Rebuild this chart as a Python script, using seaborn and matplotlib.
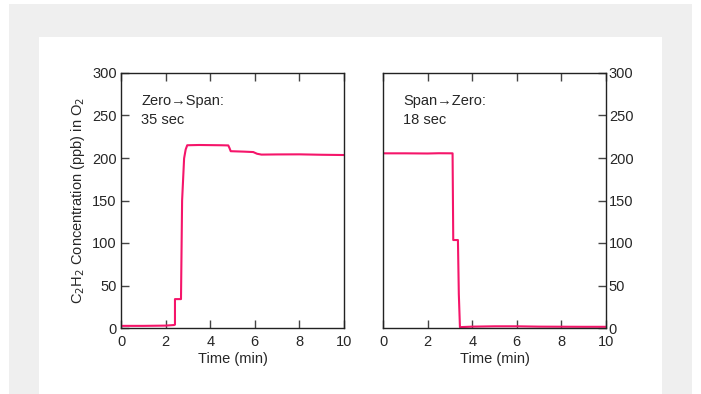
import numpy as np
import pandas as pd
import matplotlib
matplotlib.use("Agg")
import matplotlib.pyplot as plt
import seaborn as sns
from matplotlib.patches import Rectangle

# Zero -> Span response (time in min, C2H2 in ppb)
zs_time = [0, 1.0, 2.0, 2.38, 2.42, 2.42, 2.69, 2.74, 2.83, 2.9, 2.97, 3.5, 4.5, 4.81, 4.86, 4.92, 5.5, 5.93, 6.1, 6.3, 7.0, 8.0, 9.0, 10.0]
zs_conc = [2.5, 2.5, 2.8, 3.5, 4.0, 34, 34, 150, 199.6, 210, 215, 215.3, 215, 214.8, 212, 208, 207.5, 207, 205, 204, 204.2, 204.3, 203.8, 203.5]

# Span -> Zero response
sz_time = [0, 1.0, 2.0, 2.5, 3.12, 3.15, 3.36, 3.4, 3.45, 4.0, 5.0, 6.0, 7.0, 8.0, 9.0, 10.0]
sz_conc = [205.5, 205.5, 205.3, 205.6, 205.5, 103.5, 103.5, 40, 1.0, 1.6, 2.0, 2.0, 1.6, 1.5, 1.4, 1.4]

x_ticks = [0, 2, 4, 6, 8, 10]
y_ticks = [0, 50, 100, 150, 200, 250, 300]
labels = ["Zero\u2192Span:\n35 sec", "Span\u2192Zero:\n18 sec"]

sns.set_style("ticks")
plt.rcParams['font.family'] = ['Liberation Sans', 'DejaVu Sans']
plt.rcParams['font.size'] = 10.5

line_color = "#f5156a"

fig = plt.figure(figsize=(7.01, 3.94), dpi=100)
fig.patch.set_facecolor("white")
# grey frame with white inner panel
fig.patches.append(Rectangle((9 / 701, 0), 683 / 701, 390 / 394, transform=fig.transFigure,
                             facecolor="#efefef", edgecolor="none", zorder=-2))
fig.patches.append(Rectangle((39 / 701, 0), 623 / 701, 357 / 394, transform=fig.transFigure,
                             facecolor="white", edgecolor="none", zorder=-1))

ax1 = fig.add_axes([121 / 701, 1 - 328 / 394, 223 / 701, 255 / 394])
ax2 = fig.add_axes([383 / 701, 1 - 328 / 394, 223 / 701, 255 / 394])

df1 = pd.DataFrame({"time": zs_time, "conc": zs_conc})
df2 = pd.DataFrame({"time": sz_time, "conc": sz_conc})

sns.lineplot(data=df1, x="time", y="conc", ax=ax1, color=line_color, lw=1.5,
             estimator=None, sort=False)
sns.lineplot(data=df2, x="time", y="conc", ax=ax2, color=line_color, lw=1.5,
             estimator=None, sort=False)

for ax, txt in zip([ax1, ax2], labels):
    ax.set_facecolor("none")
    ax.set_xlim(0, 10)
    ax.set_ylim(0, 300)
    ax.set_xticks(x_ticks)
    ax.set_yticks(y_ticks)
    ax.set_xlabel("Time (min)", labelpad=2)
    ax.set_ylabel("")
    for s in ax.spines.values():
        s.set_visible(True)
        s.set_linewidth(1.0)
        s.set_color("#222222")
    ax.tick_params(axis="x", direction="in", top=True, bottom=True, length=6,
                   width=1, color="#444444", pad=5)
    ax.text(0.9, 256, txt, ha="left", va="center", fontsize=10.5, linespacing=1.45)

ax1.tick_params(axis="y", direction="in", left=True, right=False, length=6,
                width=1, color="#444444", pad=3)
ax1.set_ylabel("C$_2$H$_2$ Concentration (ppb) in O$_2$", labelpad=4)

ax2.yaxis.tick_right()
ax2.tick_params(axis="y", direction="in", left=False, right=True, labelleft=False,
                labelright=True, length=6, width=1, color="#444444", pad=2)

fig.savefig("out.png", dpi=100, facecolor=fig.get_facecolor())
